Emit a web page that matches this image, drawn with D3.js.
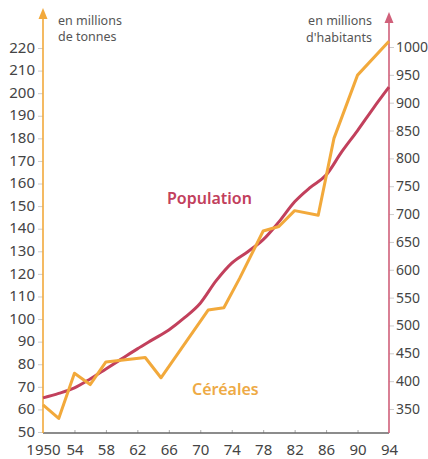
<!DOCTYPE html>
<html><head><meta charset="utf-8">
<script src="https://cdn.jsdelivr.net/npm/d3@7"></script>
<style>
html,body{margin:0;padding:0;background:#fff;}
svg{display:block;}
text{font-family:"Noto Sans",sans-serif;}
</style></head>
<body>
<svg id="chart" width="428" height="459"></svg>
<script>
// Data
const popYears = [1950,1952,1954,1956,1958,1960,1962,1964,1966,1968,1970,1972,1974,1976,1978,1980,1982,1984,1986,1988,1990,1992,1994];
const popValues = [370,378,388,404,422,440,458,475,492,514,540,580,612,632,654,686,722,748,770,812,850,890,928];
const cerYears = [1950,1952,1954,1956,1958,1963,1965,1971,1973,1975,1978,1980,1982,1985,1987,1990,1994];
const cerValues = [62,56,76,71,81,83,74,104,105,118,139,141,148,146,180,208,223];
const xTicks = [1950,1954,1958,1962,1966,1970,1974,1978,1982,1986,1990,1994];
const leftTicks = [50,60,70,80,90,100,110,120,130,140,150,160,170,180,190,200,210,220];
const rightTicks = [350,400,450,500,550,600,650,700,750,800,850,900,950,1000];

const svg = d3.select("#chart");
const x0 = 43, x1 = 389, yBase = 433;
const x = d3.scaleLinear().domain([1950,1994]).range([x0,x1]);
const yL = d3.scaleLinear().domain([50,220]).range([432,48]);
const yR = d3.scaleLinear().domain([350,1000]).range([409,47]);

const orange = "#f2a93b", red = "#c2405c";

// bottom axis
const xAxis = d3.axisBottom(x).tickValues(xTicks).tickSize(0).tickPadding(11)
  .tickFormat(d => d===1950 ? "1950" : String(d).slice(2));
const gx = svg.append("g").attr("transform",`translate(0,${yBase})`).call(xAxis);
gx.select(".domain").remove();
gx.selectAll("text").attr("font-size",15).attr("fill","#444");
gx.selectAll(".tick").filter(d=>d!==1950 && d!==1994).append("line")
  .attr("y1",0).attr("y2",-3).attr("stroke","#aaa").attr("stroke-width",1);
svg.append("line").attr("x1",x0).attr("x2",x1).attr("y1",yBase).attr("y2",yBase)
  .attr("stroke","#666").attr("stroke-width",1.5);

// left axis
const gl = svg.append("g").attr("transform",`translate(${x0},0)`)
  .call(d3.axisLeft(yL).tickValues(leftTicks).tickSize(5).tickPadding(3));
gl.select(".domain").remove();
gl.selectAll(".tick line").attr("stroke","#ccc");
gl.selectAll("text").attr("font-size",15).attr("fill","#444").attr("dy","0.28em");
svg.append("line").attr("x1",x0).attr("x2",x0).attr("y1",yBase).attr("y2",16)
  .attr("stroke",orange).attr("stroke-width",1.6);
svg.append("path").attr("d",`M${x0},8 L${x0-4.5},19 L${x0+4.5},19 Z`).attr("fill",orange);

// right axis
const gr = svg.append("g").attr("transform",`translate(${x1},0)`)
  .call(d3.axisRight(yR).tickValues(rightTicks).tickSize(5).tickPadding(2).tickFormat(d3.format("d")));
gr.select(".domain").remove();
gr.selectAll(".tick line").attr("stroke","#ccc");
gr.selectAll("text").attr("font-size",14).attr("fill","#444");
svg.append("line").attr("x1",x1).attr("x2",x1).attr("y1",yBase).attr("y2",20)
  .attr("stroke","#d0607a").attr("stroke-width",1.6);
svg.append("path").attr("d",`M${x1},12 L${x1-4.5},23 L${x1+4.5},23 Z`).attr("fill","#d0607a");

// unit labels
const unit = (tx,ty,anchor,t) => svg.append("text").attr("x",tx).attr("y",ty)
  .attr("font-size",12.5).attr("fill","#555").attr("text-anchor",anchor).text(t);
unit(58,25,"start","en millions");
unit(58,41,"start","de tonnes");
unit(372,25,"end","en millions");
unit(372,42,"end","d'habitants");

// lines
const popData = popYears.map((d,i)=>({x:d,y:popValues[i]}));
const cerData = cerYears.map((d,i)=>({x:d,y:cerValues[i]}));
svg.append("path").datum(popData)
  .attr("d",d3.line().x(d=>x(d.x)).y(d=>yR(d.y)).curve(d3.curveMonotoneX))
  .attr("fill","none").attr("stroke",red).attr("stroke-width",3).attr("stroke-linejoin","round");
svg.append("path").datum(cerData)
  .attr("d",d3.line().x(d=>x(d.x)).y(d=>yL(d.y)))
  .attr("fill","none").attr("stroke",orange).attr("stroke-width",3).attr("stroke-linejoin","round");

// series labels
svg.append("text").attr("x",167).attr("y",204).attr("font-size",16).attr("font-weight",600)
  .attr("fill",red).text("Population");
svg.append("text").attr("x",192).attr("y",395).attr("font-size",16).attr("font-weight",600)
  .attr("fill","#eeaa45").text("Céréales");
</script>
</body></html>
